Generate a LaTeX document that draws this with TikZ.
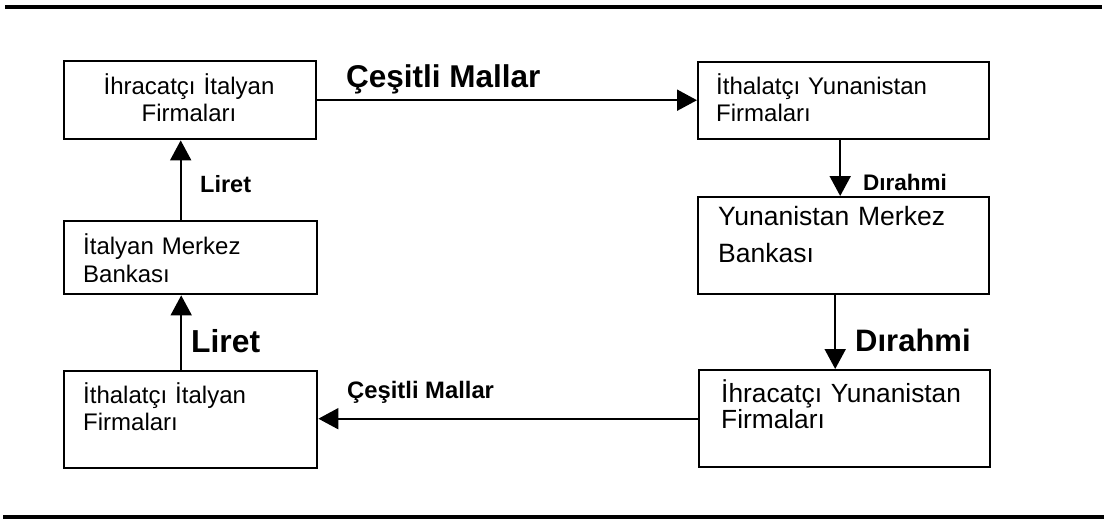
\documentclass[tikz,border=0pt]{standalone}
\usepackage{fontspec}
\setmainfont{Liberation Sans}
\usetikzlibrary{arrows.meta}
\begin{document}
\begin{tikzpicture}[x=1pt,y=-1pt,
  box/.style={draw=black, line width=2.4pt, rectangle, inner sep=0pt, anchor=north west},
  boxtext/.style={inner sep=0pt, anchor=base west, text width=270pt, align=left},
  arr/.style={draw=black, line width=2pt, -{Triangle[length=20pt,width=21pt]}},
  lbl/.style={inner sep=0pt, anchor=base west, font=\bfseries},
  rule/.style={line width=4pt}
]
\useasboundingbox (0,0) rectangle (1104,519);

% horizontal rules framing the figure
\coordinate (r1a) at (5,7.5);   \coordinate (r1b) at (1102,7.5);
\coordinate (r2a) at (3,517);   \coordinate (r2b) at (1104,517);
\draw[rule] (r1a) -- (r1b);
\draw[rule] (r2a) -- (r2b);

% boxes
\node[box, minimum width=252pt, minimum height=78pt] (b1) at (63,60) {};
\node[box, minimum width=291pt, minimum height=77pt] (b2) at (697,61) {};
\node[box, minimum width=291pt, minimum height=97pt] (b3) at (697,196) {};
\node[box, minimum width=291pt, minimum height=97pt] (b4) at (698,369) {};
\node[box, minimum width=253pt, minimum height=73pt] (bim) at (63,220) {};
\node[box, minimum width=253pt, minimum height=97pt] (b5) at (63,370) {};

% box texts
\node[inner sep=0pt, anchor=base, text width=252pt, align=center,
      font=\fontsize{24}{27}\selectfont] (t1) at (189,95) {İhracatçı İtalyan\\Firmaları};
\node[boxtext, font=\fontsize{24}{27}\selectfont] (t2) at (716,95) {İthalatçı Yunanistan\\Firmaları};
\node[boxtext, font=\fontsize{26.5}{37}\selectfont] (t3) at (718,225) {Yunanistan Merkez\\Bankası};
\node[boxtext, font=\fontsize{26.3}{26}\selectfont] (t4) at (721,402) {İhracatçı Yunanistan\\Firmaları};
\node[boxtext, font=\fontsize{24}{28}\selectfont] (tim) at (83,254) {İtalyan Merkez\\Bankası};
\node[boxtext, font=\fontsize{24}{27}\selectfont] (t5) at (83,403) {İthalatçı İtalyan\\Firmaları};

% flows
\draw[arr] (b1.east) -- (b1.east -| b2.west);
\draw[arr] ([xshift=-3.5pt]b2.south) -- ([xshift=-3.5pt]b2.south |- b3.north);
\draw[arr] ([xshift=-8.5pt]b3.south) -- ([xshift=-8.5pt]b3.south |- b4.north);
\draw[arr] (b4.west) -- (b4.west -| b5.east);
\draw[arr] ([xshift=-9.5pt]b5.north) -- ([xshift=-9.5pt]b5.north |- bim.south);
\draw[arr] ([xshift=-10pt]bim.north) -- ([xshift=-10pt]bim.north |- b1.south);

% flow labels
\node[lbl, font=\bfseries\fontsize{31.5}{34}\selectfont] (l1) at (346,88) {Çeşitli Mallar};
\node[lbl, font=\bfseries\fontsize{22.5}{26}\selectfont] (l2) at (863,190) {Dırahmi};
\node[lbl, font=\bfseries\fontsize{31}{34}\selectfont] (l3) at (855,351) {Dırahmi};
\node[lbl, font=\bfseries\fontsize{23.8}{26}\selectfont] (l4) at (347,398) {Çeşitli Mallar};
\node[lbl, font=\bfseries\fontsize{31.8}{34}\selectfont] (l5) at (191,352) {Liret};
\node[lbl, font=\bfseries\fontsize{23.5}{26}\selectfont] (l6) at (200,192) {Liret};
\end{tikzpicture}
\end{document}
